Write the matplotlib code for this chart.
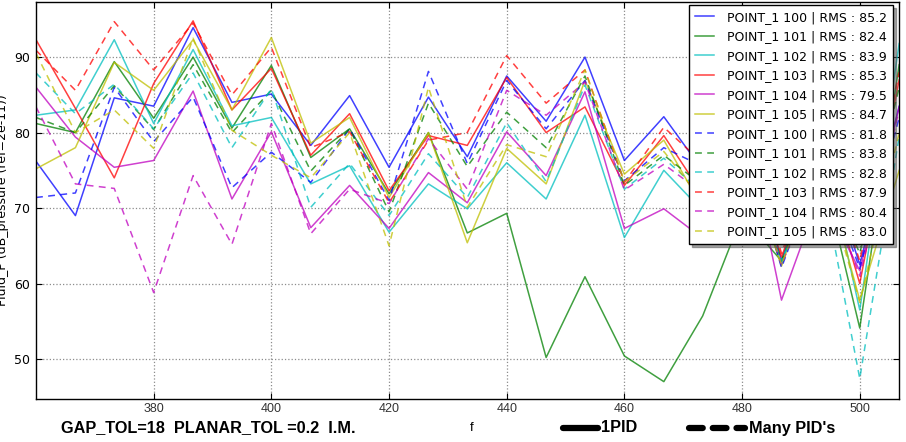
import matplotlib
matplotlib.use("Agg")
import matplotlib.pyplot as plt
from matplotlib.lines import Line2D

# frecuencias (eje x)
freqs = [360.0, 366.7, 373.3, 380.0, 386.7, 393.3, 400.0, 406.7, 413.3, 420.0,
         426.7, 433.3, 440.0, 446.7, 453.3, 460.0, 466.7, 473.3, 480.0, 486.7,
         493.3, 500.0, 506.7]

# 1PID (lineas continuas)
p100 = [76.2, 69.0, 84.6, 83.5, 93.9, 84.0, 85.1, 78.3, 84.9, 75.4, 84.7, 76.8,
        87.5, 81.5, 90.0, 76.3, 82.1, 75.0, 82.0, 63.0, 79.0, 62.5, 83.5]
p101 = [81.2, 80.0, 89.4, 81.9, 90.0, 80.6, 88.9, 76.7, 80.5, 71.9, 80.0, 66.7,
        69.3, 50.2, 60.9, 50.4, 47.0, 55.7, 69.0, 63.0, 76.0, 54.1, 89.0]
p102 = [82.3, 83.0, 92.3, 81.2, 91.0, 80.9, 82.0, 73.2, 75.6, 66.8, 73.2, 69.9,
        76.0, 71.2, 82.3, 66.1, 75.0, 69.6, 78.0, 62.5, 80.0, 56.5, 91.8]
p103 = [92.3, 83.2, 74.0, 86.5, 94.8, 83.0, 88.5, 77.0, 82.5, 72.3, 79.6, 78.3,
        87.3, 80.0, 83.4, 73.0, 79.6, 71.8, 80.0, 63.5, 78.0, 60.0, 87.0]
p104 = [86.0, 79.4, 75.4, 76.3, 85.5, 71.2, 80.1, 67.4, 73.0, 67.3, 74.7, 70.7,
        80.1, 74.3, 85.4, 67.3, 69.9, 66.0, 83.0, 57.8, 72.0, 61.7, 83.4]
p105 = [75.2, 78.0, 89.3, 85.6, 92.3, 83.0, 92.6, 78.6, 82.0, 71.4, 80.0, 65.4,
        77.9, 73.2, 86.9, 74.5, 79.0, 70.0, 78.0, 62.3, 77.0, 57.8, 75.0]

# Many PID's (lineas discontinuas)
m100 = [71.4, 72.0, 86.0, 78.8, 84.7, 72.7, 77.4, 73.4, 80.5, 71.0, 88.1, 75.9,
        86.9, 80.5, 86.9, 73.6, 78.0, 75.5, 80.0, 62.1, 76.0, 62.0, 82.0]
m101 = [82.0, 80.0, 86.2, 80.4, 89.0, 80.0, 85.6, 74.9, 80.5, 69.5, 83.9, 75.5,
        82.7, 78.0, 87.5, 73.0, 77.0, 73.0, 79.0, 63.0, 76.0, 64.0, 86.0]
m102 = [87.9, 82.5, 86.4, 80.5, 87.9, 78.0, 85.8, 70.1, 75.9, 69.0, 77.2, 71.4,
        81.3, 73.5, 86.3, 72.5, 76.6, 72.0, 77.0, 63.0, 75.0, 47.4, 79.5]
m103 = [90.9, 85.6, 94.7, 88.3, 94.5, 85.0, 91.3, 78.0, 80.1, 70.7, 79.0, 80.0,
        90.2, 83.9, 88.3, 73.4, 80.7, 76.0, 82.0, 64.0, 79.0, 63.0, 88.0]
m104 = [83.4, 73.2, 72.6, 58.8, 74.3, 65.2, 81.2, 66.6, 72.5, 70.6, 79.2, 72.5,
        85.6, 82.3, 86.7, 72.4, 75.8, 72.0, 79.0, 62.5, 75.0, 61.0, 83.0]
m105 = [90.5, 80.0, 83.0, 77.9, 92.5, 80.3, 77.0, 74.0, 80.0, 65.0, 86.0, 70.1,
        78.4, 76.8, 88.3, 73.5, 77.5, 71.0, 78.0, 62.5, 76.0, 57.5, 80.0]

puntos = ["100", "101", "102", "103", "104", "105"]
rms_1pid = [85.2, 82.4, 83.9, 85.3, 79.5, 84.7]
rms_many = [81.8, 83.8, 82.8, 87.9, 80.4, 83.0]
colores = [(0, 0, 1), (0, 0.5, 0), (0, 0.75, 0.75), (1, 0, 0), (0.75, 0, 0.75), (0.75, 0.75, 0)]

fuente_abajo = "Liberation Sans"

fig = plt.figure(figsize=(9.06, 4.42), dpi=100)
ax = fig.add_axes([36 / 906, 1 - 399 / 442, 863 / 906, 397 / 442])

for serie, pt, rms, c in zip([p100, p101, p102, p103, p104, p105], puntos, rms_1pid, colores):
    ax.plot(freqs, serie, color=c, lw=1.1, alpha=0.75,
            label=f"POINT_1 {pt} | RMS : {rms:.1f}")
for serie, pt, rms, c in zip([m100, m101, m102, m103, m104, m105], puntos, rms_many, colores):
    ax.plot(freqs, serie, color=c, lw=1.1, alpha=0.75, linestyle=(0, (4.5, 3.5)),
            label=f"POINT_1 {pt} | RMS : {rms:.1f}")

ax.set_xlim(360, 506.67)
ax.set_ylim(44.7, 97.3)
ax.set_xticks([380, 400, 420, 440, 460, 480, 500])
ax.set_yticks([50, 60, 70, 80, 90])
ax.grid(True, linestyle=":", color="0.55", linewidth=0.9)
ax.tick_params(direction="in", top=True, right=True, length=4, width=0.8)
ax.tick_params(axis="y", labelsize=9, pad=4)
ax.tick_params(axis="x", labelsize=9, pad=3, labelcolor="#333333")
for lab in ax.get_xticklabels():
    lab.set_family(fuente_abajo)
for sp in ax.spines.values():
    sp.set_linewidth(1.0)

ax.set_ylabel("Fluid_P (dB_pressure (ref=2e-11))", fontsize=9)
ax.yaxis.set_label_coords(-0.031, 0.5)

leg = ax.legend(loc="upper right", bbox_to_anchor=(0.993, 0.992), borderaxespad=0,
                fontsize=9, handlelength=1.5, handletextpad=1.1, labelspacing=0.52,
                borderpad=0.45, shadow=True, fancybox=False, framealpha=1,
                edgecolor="black")
leg.get_frame().set_linewidth(1.0)

# textos de abajo
y_txt = 1 - 428 / 442
fig.text(61 / 906, y_txt, "GAP_TOL=18  PLANAR_TOL =0.2  I.M.", fontsize=11.7,
         fontweight="bold", family=fuente_abajo, va="center")
fig.text(470 / 906, y_txt, "f", fontsize=9.5, family=fuente_abajo, va="center")
fig.add_artist(Line2D([563 / 906, 598 / 906], [y_txt, y_txt], lw=4.5, color="black",
                      solid_capstyle="round"))
fig.text(601 / 906, y_txt, "1PID", fontsize=11.7, fontweight="bold", family=fuente_abajo, va="center")
fig.add_artist(Line2D([689 / 906, 745 / 906], [y_txt, y_txt], lw=4.5, color="black",
                      linestyle=(0, (2.2, 1.6)), dash_capstyle="round"))
fig.text(749 / 906, y_txt, "Many PID's", fontsize=11.7, fontweight="bold", family=fuente_abajo, va="center")

plt.savefig("out.png", dpi=100)
plt.close()
